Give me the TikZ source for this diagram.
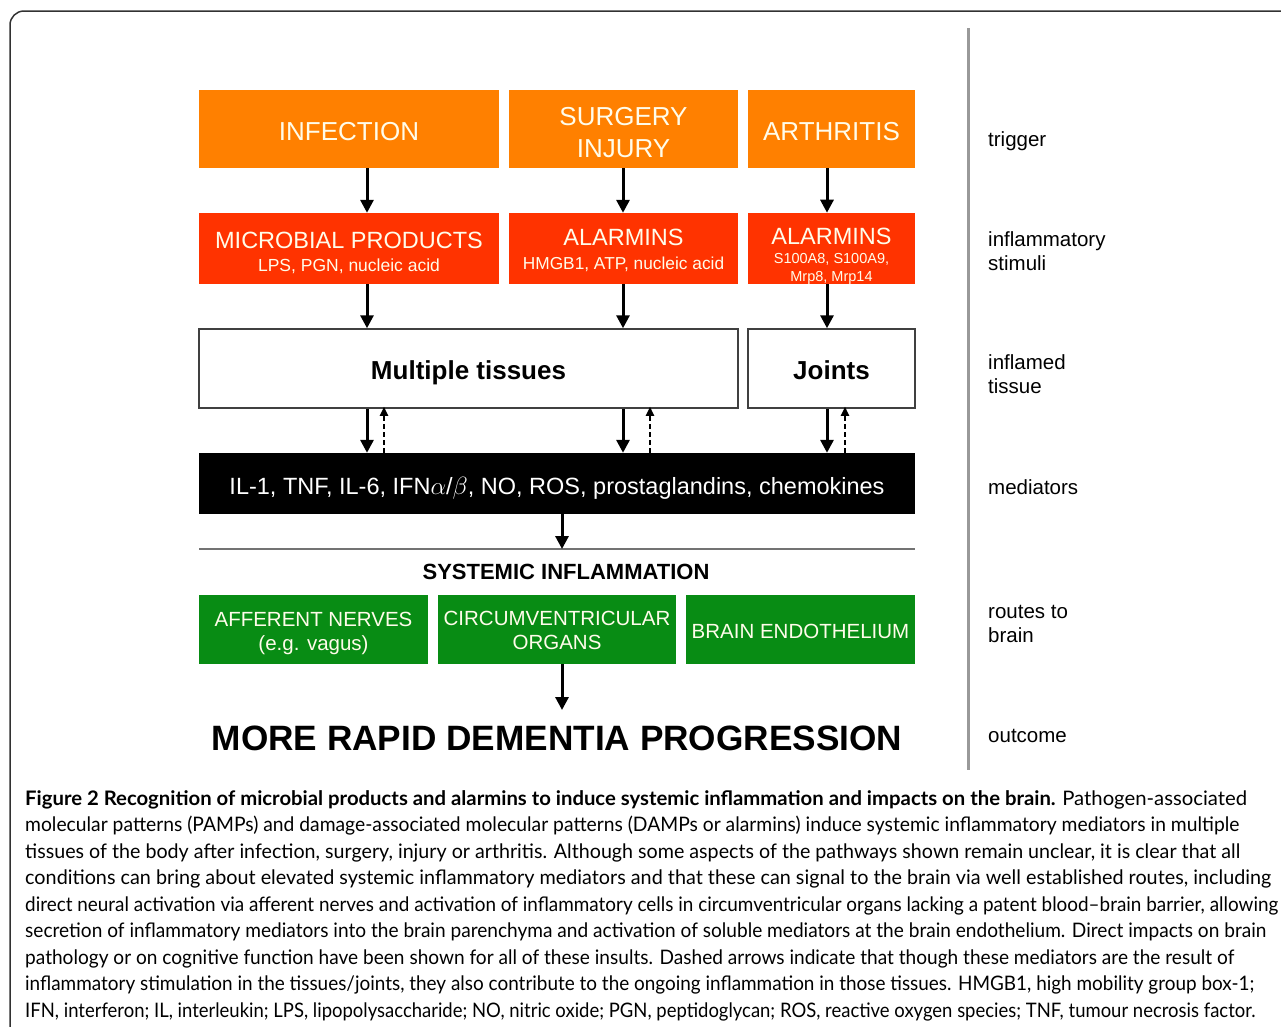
\documentclass[tikz,border=0pt]{standalone}
\usepackage{fontspec}
\setmainfont{Liberation Sans}
\newfontfamily\capfont{Lato}
\usepackage{graphicx}
\usetikzlibrary{arrows.meta,calc}
\definecolor{orng}{RGB}{255,128,0}
\definecolor{rd}{RGB}{255,51,0}
\definecolor{grn}{RGB}{8,140,20}
\definecolor{cream}{RGB}{255,252,234}
\definecolor{frame}{RGB}{50,50,50}
\newlength\capw
\newcommand\capline[2]{\settowidth\capw{#2}\pgfmathsetmacro\capr{#1/\capw}\scalebox{\capr}[1]{#2}}
\newcommand\pushdown[1]{\rule{0pt}{\dimexpr\fontcharht\font`H+#1\relax}}
\tikzset{
  tbox/.style={inner sep=0pt, align=center, text=cream},
  orbox/.style={tbox, fill=orng, minimum height=78pt, font=\fontsize{26}{32}\selectfont},
  rdbox/.style={tbox, fill=rd, minimum height=71pt, font=\fontsize{23.5}{25}\selectfont},
  tisbox/.style={draw=black!75, line width=1.5pt, fill=white, minimum height=79pt, inner sep=0pt, text height=21.6pt, text depth=0pt, font=\bfseries\fontsize{26}{30}\selectfont},
  medbox/.style={fill=black, text=white, inner sep=0pt, minimum height=61pt, minimum width=716pt, text height=21.8pt, text depth=0pt, font=\fontsize{23.5}{28}\selectfont},
  gnbox/.style={tbox, fill=grn, minimum height=69pt, font=\fontsize{20.5}{25}\selectfont},
  arr/.style={line width=3pt, -{Triangle[length=13pt,width=13pt]}},
  darr/.style={line width=1.8pt, dash pattern=on 5pt off 3pt, -{Triangle[length=9pt,width=8pt]}},
  side/.style={anchor=west, align=left, inner sep=0pt, font=\fontsize{20.5}{24}\selectfont},
  capl/.style={anchor=base west, inner sep=0pt, font=\capfont\fontsize{20}{24}\selectfont},
  sepline/.style={draw=black!55, line width=2pt},
  vline/.style={draw=black!40, line width=3pt},
}
\begin{document}
\begin{tikzpicture}[x=1pt,y=-1pt]
\useasboundingbox (0,0) rectangle (1281,1026);
% frame
\draw[frame, line width=1.5pt, rounded corners=14pt] (10,1040) -- (10,11) -- (1300,11);
% column separator
\coordinate (vt) at (968,28);
\coordinate (vb) at (968,770);
\draw[vline] (vt) -- (vb);

% triggers
\node[orbox, minimum width=300pt, text height=22.6pt, text depth=0pt] (inf) at (349,129) {INFECTION};
\node[orbox, minimum width=229pt] (sur) at (623.5,129) {\pushdown{8pt}SURGERY\\INJURY};
\node[orbox, minimum width=167pt, text height=22.6pt, text depth=0pt] (art) at (831.5,129) {ARTHRITIS};

% stimuli
\node[rdbox, minimum width=300pt] (mic) at (349,248.5) {\pushdown{10pt}MICROBIAL PRODUCTS\\[-2pt]\fontsize{17.5}{20}\selectfont LPS, PGN, nucleic acid};
\node[rdbox, minimum width=229pt] (al1) at (623.5,248.5) {\pushdown{5pt}ALARMINS\\[-1pt]\fontsize{17.3}{20}\selectfont HMGB1, ATP, nucleic acid};
\node[rdbox, minimum width=167pt] (al2) at (831.5,248.5) {\pushdown{15pt}ALARMINS\\[-6pt]\fontsize{14.5}{17}\selectfont S100A8, S100A9,\\[-7pt]\fontsize{14.5}{17}\selectfont Mrp8, Mrp14};

% tissues
\node[tisbox, minimum width=539pt] (mult) at (468.5,368.5) {Multiple tissues};
\node[tisbox, minimum width=167pt] (jnt) at (831.5,368.5) {Joints};

% mediators
\node[medbox] (med) at (557,483.5) {IL-1, TNF, IL-6, IFN$\alpha$/$\beta$, NO, ROS, prostaglandins, chemokines};

% systemic
\coordinate (sysL) at (199,549);
\coordinate (sysR) at (915,549);
\draw[sepline] (sysL) -- (sysR);
\node[inner sep=0pt, font=\bfseries\fontsize{22}{26}\selectfont] (sys) at (566,571.5) {SYSTEMIC INFLAMMATION};

% routes
\node[gnbox, minimum width=229pt] (aff) at (313.5,629.5) {\pushdown{9pt}AFFERENT NERVES\\[-1pt](e.g. vagus)};
\node[gnbox, minimum width=238pt] (cvo) at (557,629.5) {\pushdown{3pt}CIRCUMVENTRICULAR\\[-1pt]ORGANS};
\node[gnbox, minimum width=229pt, text height=17.6pt, text depth=0pt] (be) at (800.5,629.5) {BRAIN ENDOTHELIUM};

% outcome
\node[inner sep=0pt, font=\bfseries\fontsize{35.2}{40}\selectfont] (out) at (557,738) {MORE RAPID DEMENTIA PROGRESSION};
\coordinate (outtip) at (562,710);

% arrows trigger -> stimuli
\draw[arr] ([xshift=18pt]inf.south) -- ([xshift=18pt]mic.north);
\draw[arr] ([xshift=-0.5pt]sur.south) -- ([xshift=-0.5pt]al1.north);
\draw[arr] ([xshift=-4.5pt]art.south) -- ([xshift=-4.5pt]al2.north);
% stimuli -> tissues
\coordinate (s1) at ([xshift=18pt]mic.south);
\coordinate (s2) at ([xshift=-0.5pt]al1.south);
\coordinate (s3) at ([xshift=-4.5pt]al2.south);
\draw[arr] (s1) -- (s1 |- mult.north);
\draw[arr] (s2) -- (s2 |- mult.north);
\draw[arr] (s3) -- (s3 |- jnt.north);
% tissues <-> mediators
\coordinate (t1) at ([xshift=-101.5pt]mult.south);
\coordinate (t2) at ([xshift=154.5pt]mult.south);
\coordinate (t3) at ([xshift=-4.5pt]jnt.south);
\coordinate (d1) at ([xshift=-84.5pt]mult.south);
\coordinate (d2) at ([xshift=181.5pt]mult.south);
\coordinate (d3) at ([xshift=13.5pt]jnt.south);
\draw[arr] (t1) -- (t1 |- med.north);
\draw[arr] (t2) -- (t2 |- med.north);
\draw[arr] (t3) -- (t3 |- med.north);
\draw[darr] ([yshift=-8pt]d1 |- med.north) -- ([yshift=2pt]d1);
\draw[darr] ([yshift=-8pt]d2 |- med.north) -- ([yshift=2pt]d2);
\draw[darr] ([yshift=-8pt]d3 |- med.north) -- ([yshift=2pt]d3);
% mediators -> systemic line
\coordinate (m0) at ([xshift=5pt]med.south);
\draw[arr] (m0) -- (m0 |- sysL);
% routes -> outcome
\draw[arr] ([xshift=5pt]cvo.south) -- (outtip);

% side labels
\node[side] (l1) at (988,141) {trigger};
\node[side] (l2) at (988,251) {inflammatory\\stimuli};
\node[side] (l3) at (988,374) {inflamed\\tissue};
\node[side] (l4) at (988,487) {mediators};
\node[side] (l5) at (988,624) {routes to\\brain};
\node[side] (l6) at (988,736) {outcome};

% caption
\node[capl] (c1) at (25,805) {\capline{1222}{\bfseries Figure 2 Recognition of microbial products and alarmins to induce systemic inflammation and impacts on the brain.\mdseries{} Pathogen-associated}};
\node[capl] (c2) at (25,831.5) {\capline{1214}{molecular patterns (PAMPs) and damage-associated molecular patterns (DAMPs or alarmins) induce systemic inflammatory mediators in multiple}};
\node[capl] (c3) at (25,858) {\capline{1215}{tissues of the body after infection, surgery, injury or arthritis. Although some aspects of the pathways shown remain unclear, it is clear that all}};
\node[capl] (c4) at (25,884.5) {\capline{1246}{conditions can bring about elevated systemic inflammatory mediators and that these can signal to the brain via well established routes, including}};
\node[capl] (c5) at (25,911) {\capline{1253}{direct neural activation via afferent nerves and activation of inflammatory cells in circumventricular organs lacking a patent blood–brain barrier, allowing}};
\node[capl] (c6) at (25,937.5) {\capline{1241}{secretion of inflammatory mediators into the brain parenchyma and activation of soluble mediators at the brain endothelium. Direct impacts on brain}};
\node[capl] (c7) at (25,964) {\capline{1209}{pathology or on cognitive function have been shown for all of these insults. Dashed arrows indicate that though these mediators are the result of}};
\node[capl] (c8) at (25,990.5) {\capline{1229}{inflammatory stimulation in the tissues/joints, they also contribute to the ongoing inflammation in those tissues. HMGB1, high mobility group box-1;}};
\node[capl] (c9) at (25,1017) {\capline{1230}{IFN, interferon; IL, interleukin; LPS, lipopolysaccharide; NO, nitric oxide; PGN, peptidoglycan; ROS, reactive oxygen species; TNF, tumour necrosis factor.}};
\end{tikzpicture}
\end{document}
